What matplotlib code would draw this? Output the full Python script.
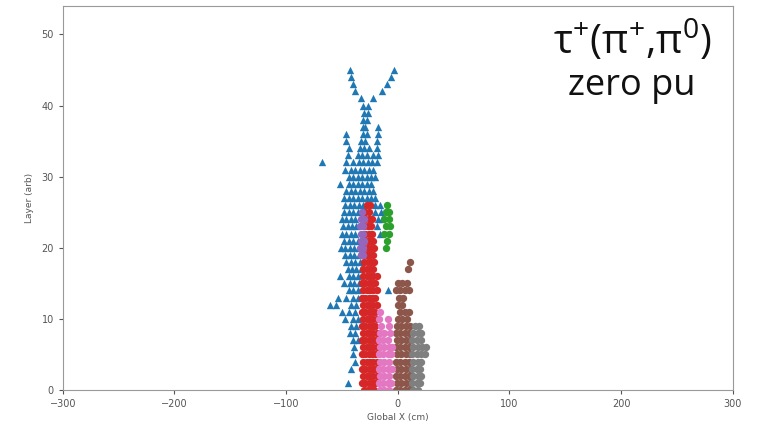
import matplotlib.pyplot as plt

# x positions (cm) of hits, one row per layer starting at layer 0
blue_rows = [
    [], [-45], [], [-42], [-38], [-40], [-39], [-40, -36], [-43, -38], [-42, -37],
    [-47, -40, -36], [-50, -44, -38], [-61, -55, -42, -37], [-54, -46, -40, -36],
    [-44, -40, -36, -9], [-48, -43, -39, -35], [-52, -44, -40, -36],
    [-45, -41, -37, -33], [-46, -42, -38, -34], [-47, -43, -39, -35],
    [-51, -47, -43, -39, -35], [-48, -44, -40, -36], [-50, -46, -42, -38, -16],
    [-49, -45, -41, -37, -19], [-50, -46, -42, -38, -18, -14],
    [-48, -44, -40, -36, -20, -15], [-47, -43, -39, -35, -31, -20, -16],
    [-48, -44, -40, -36, -32, -28, -24, -20], [-46, -42, -38, -34, -30, -26, -22],
    [-52, -44, -40, -36, -32, -28, -24], [-44, -40, -36, -32, -28, -24, -20],
    [-47, -42, -38, -34, -30, -26, -22], [-68, -46, -40, -35, -31, -27, -23, -19],
    [-45, -36, -32, -28, -22, -18], [-44, -34, -30, -26, -19],
    [-46, -33, -29, -19], [-46, -31, -28, -18], [-31, -29, -18], [-31, -28],
    [-30, -27], [-31, -27], [-33, -22], [-38, -14], [-40, -10], [-42, -6], [-43, -3],
]
green_rows = [[]] * 20 + [[-11], [-10], [-12, -8], [-11, -7], [-12, -8], [-11, -8], [-10]]
red_rows = [
    [-30, -27, -24, -21], [-32, -29, -26, -23, -20], [-31, -28, -25, -22, -19],
    [-32, -29, -26, -23, -20], [-31, -28, -25, -22, -19], [-32, -29, -26, -23, -20],
    [-31, -28, -25, -22, -19], [-32, -29, -26, -23, -20], [-31, -28, -25, -22, -19],
    [-32, -29, -26, -23, -20], [-31, -28, -25, -22, -19], [-32, -29, -26, -23, -20],
    [-31, -28, -25, -22, -19], [-32, -29, -26, -23, -20], [-31, -28, -25, -22, -19],
    [-32, -29, -26, -23, -20], [-31, -28, -25, -22, -19], [-31, -28, -25, -22],
    [-30, -27, -24, -21], [-31, -28, -25, -22], [-30, -27, -24, -21],
    [-30, -27, -24, -22], [-29, -26, -23], [-30, -27, -24], [-29, -26, -23],
    [-29, -26], [-28, -25],
]
purple_rows = [[]] * 19 + [[-33, -31], [-34, -31], [-33, -30], [-33, -31], [-34, -31], [-33, -30], [-32]]
brown_rows = [
    [-2, 2, 6, 10, 13], [-1, 3, 7, 11], [-2, 2, 6, 10, 13], [-1, 3, 7, 11],
    [-2, 2, 6, 10], [-1, 3, 7, 11], [-2, 2, 6, 10], [-1, 3, 7, 11], [-2, 2, 6, 10],
    [-1, 3, 7, 11], [0, 4, 8], [2, 6, 10], [0, 4], [1, 5], [-2, 2, 6, 10],
    [0, 4, 8], [], [9], [11],
]
pink_rows = [
    [-16, -12, -8], [-17, -13, -9, -6], [-16, -12, -8], [-17, -13, -9, -5],
    [-16, -12, -8], [-17, -13, -9, -6], [-16, -12, -8, -5], [-17, -13, -9],
    [-16, -12, -7], [-15, -8], [-17, -9], [-16],
]
gray_rows = [
    [14, 18], [13, 17, 20], [14, 18, 21], [13, 17, 20], [14, 18, 21],
    [13, 17, 21, 24], [14, 18, 22, 25], [13, 17, 21], [14, 18, 21], [15, 19],
]

series = [
    (blue_rows, "tab:blue", "^"),
    (green_rows, "tab:green", "o"),
    (red_rows, "tab:red", "o"),
    (purple_rows, "tab:purple", "o"),
    (brown_rows, "tab:brown", "o"),
    (pink_rows, "tab:pink", "o"),
    (gray_rows, "tab:gray", "o"),
]

fig = plt.figure(figsize=(7.57, 4.30), dpi=100)
ax = fig.add_axes([0.083, 0.093, 0.885, 0.893])

for rows, color, marker in series:
    xs, ys = [], []
    for layer, row in enumerate(rows):
        xs += row
        ys += [layer] * len(row)
    ax.scatter(xs, ys, c=color, marker=marker, s=28, linewidths=0)

ax.set_xlim(-300, 300)
ax.set_ylim(0, 54)
ax.set_xticks(range(-300, 301, 100))
ax.set_yticks(range(0, 51, 10))
ax.tick_params(labelsize=7, colors="#555555", length=3)
for sp in ax.spines.values():
    sp.set_color("#999999")
ax.set_xlabel("Global X (cm)", fontsize=6.5, color="#555555", labelpad=3)
ax.set_ylabel("Layer (arb)", fontsize=6.5, color="#555555", labelpad=5)

fig.text(0.835, 0.905, r"$\mathregular{τ^{+}(π^{+}{,}π^{0})}$", fontsize=29,
         family=["Open Sans", "DejaVu Sans"], ha="center", va="center", color="#111111")
fig.text(0.835, 0.80, "zero pu", fontsize=26, family=["Open Sans", "DejaVu Sans"],
         ha="center", va="center", color="#111111")

fig.savefig("out.png", dpi=100)
